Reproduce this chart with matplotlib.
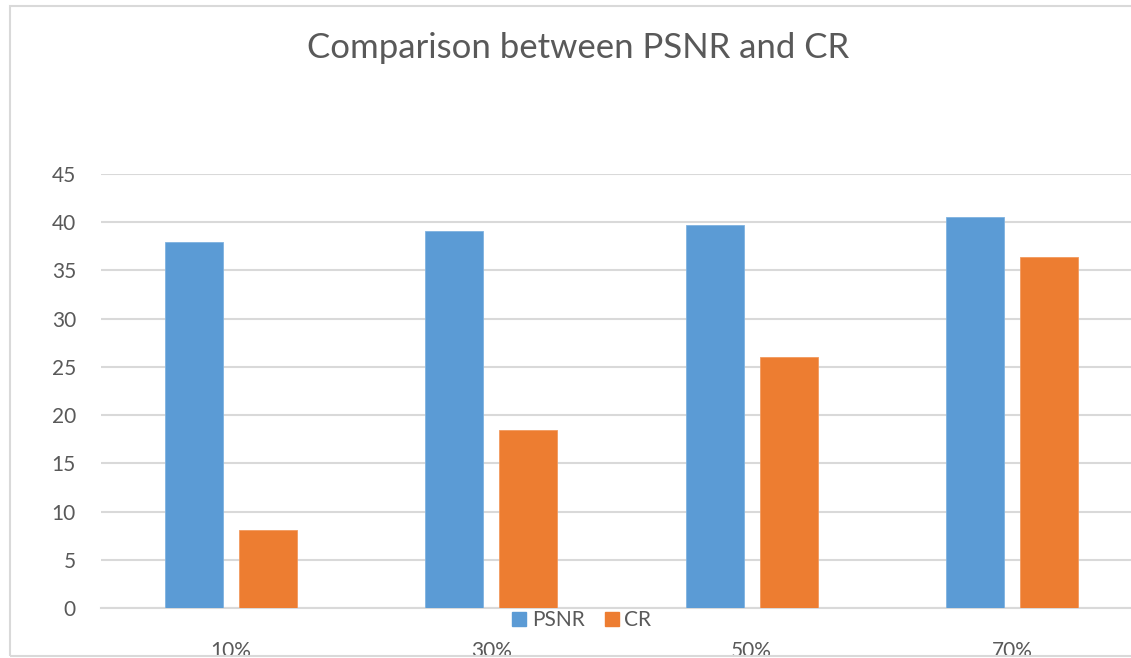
import matplotlib
matplotlib.use("Agg")
import matplotlib.pyplot as plt
import numpy as np
from matplotlib.patches import Rectangle
from matplotlib.lines import Line2D

categories = ["10%", "30%", "50%", "70%"]
psnr = [38.0, 39.1, 39.7, 40.5]
cr = [8.1, 18.5, 26.0, 36.4]
yticks = [0, 5, 10, 15, 20, 25, 30, 35, 40, 45]

plt.rcParams['font.family'] = ['Lato', 'DejaVu Sans']

W, H = 1131, 658
fig = plt.figure(figsize=(W / 100, H / 100), dpi=100)
fig.patch.set_facecolor("white")

# outer chart border (right side extends beyond crop)
fig.patches.append(Rectangle((10 / W, 1 - 656 / H), 1.2, (656 - 6) / H,
                             transform=fig.transFigure, fill=False,
                             edgecolor="#D9D9D9", linewidth=1.5))

left, right = 101, 1142
bottom, top = 608, 174
ax = fig.add_axes([left / W, 1 - bottom / H, (right - left) / W, (bottom - top) / H])

x = np.arange(len(categories))
bw = 58 / 260
gap = 16 / 260
blue = "#5B9BD5"
orange = "#ED7D31"
ax.bar(x - (bw + gap) / 2, psnr, width=bw, color=blue, edgecolor="#7FB2E0", linewidth=0.6, zorder=3)
ax.bar(x + (bw + gap) / 2, cr, width=bw, color=orange, edgecolor="#F29A5E", linewidth=0.6, zorder=3)

ax.set_xlim(-0.5, len(categories) - 0.5)
ax.set_ylim(0, 45)
ax.set_yticks(yticks)
ax.set_yticklabels([str(v) for v in yticks])
ax.set_xticks(x)
ax.set_xticklabels(categories)
ax.yaxis.grid(True, color="#D9D9D9", linewidth=1.5, zorder=0)
ax.set_axisbelow(True)
for s in ["top", "right", "left"]:
    ax.spines[s].set_visible(False)
ax.spines["bottom"].set_color("#D9D9D9")
ax.spines["bottom"].set_linewidth(1.5)
ax.tick_params(axis="both", length=0, colors="#595959", labelsize=15)
ax.tick_params(axis="y", pad=18)
ax.tick_params(axis="x", pad=24)

fig.text(578 / W, 1 - 48 / H, "Comparison between PSNR and CR", ha="center", va="center",
         fontsize=25, color="#595959")

handles = [Line2D([], [], marker="s", linestyle="none", markersize=10, color=blue),
           Line2D([], [], marker="s", linestyle="none", markersize=10, color=orange)]
fig.legend(handles, ["PSNR", "CR"], loc="center", bbox_to_anchor=(580 / W, 1 - 620 / H),
           ncol=2, frameon=False, fontsize=15, labelcolor="#595959",
           handletextpad=0.1, columnspacing=0.8, handlelength=1.0)

fig.savefig("out.png", dpi=100, facecolor="white")
